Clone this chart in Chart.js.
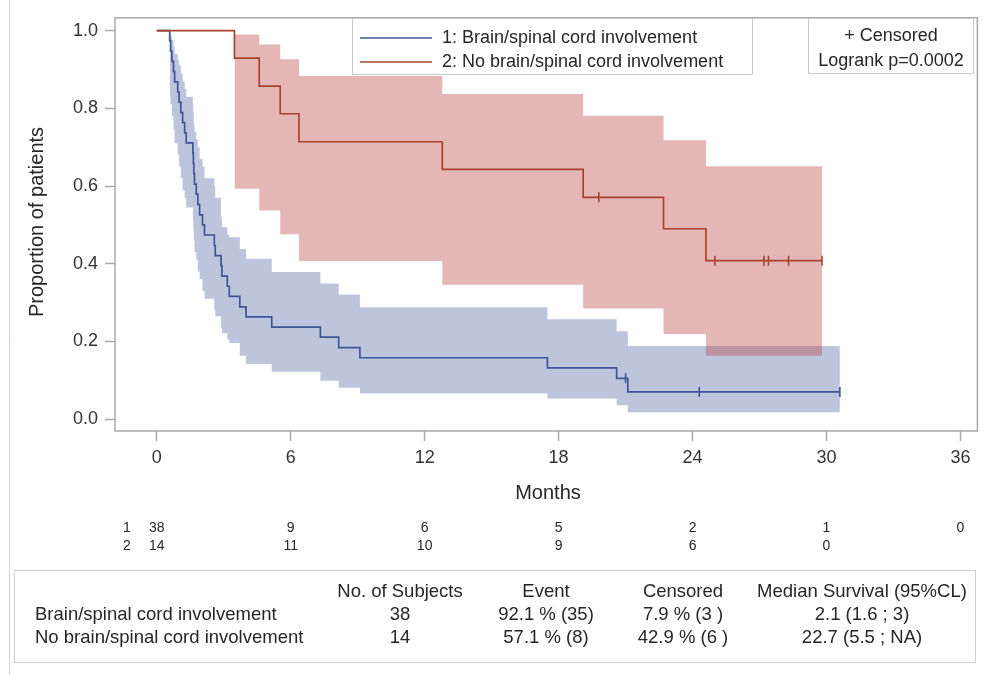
<!DOCTYPE html>
<html>
<head>
<meta charset="utf-8">
<script src="https://cdn.jsdelivr.net/npm/chart.js@4/dist/chart.umd.min.js"></script>
<style>
  html, body { margin: 0; padding: 0; background: #ffffff; }
  #wrap { position: relative; width: 984px; height: 675px; }
  canvas { display: block; }
</style>
</head>
<body>
<div id="wrap"><canvas id="km" width="984" height="675"></canvas></div>
<script>
// Axis ticks
const monthTicks = [0, 6, 12, 18, 24, 30, 36];
const yTicks = [0, 0.2, 0.4, 0.6, 0.8, 1.0];

// Group 1: brain/spinal cord involvement (n = 38) — event times (months) and KM estimate after each
const g1Times = [0.58, 0.62, 0.68, 0.75, 0.80, 0.94, 1.00, 1.08, 1.16, 1.25, 1.32,
                 1.62, 1.64, 1.66, 1.69, 1.77, 1.84, 1.92, 2.05, 2.14,
                 2.58, 2.62, 2.88, 2.92, 3.16, 3.25, 3.72, 4.00, 5.15,
                 7.33, 8.15, 9.10, 17.5, 20.6, 21.1];
const g1Surv = [0.974, 0.947, 0.921, 0.895, 0.868, 0.842, 0.816, 0.789, 0.763, 0.737, 0.711,
                0.684, 0.658, 0.632, 0.605, 0.579, 0.553, 0.526, 0.500, 0.474,
                0.447, 0.421, 0.395, 0.368, 0.342, 0.316, 0.289, 0.263, 0.237,
                0.211, 0.184, 0.158, 0.132, 0.105, 0.070];
const g1Lower = [0.83, 0.81, 0.78, 0.745, 0.71, 0.68, 0.65, 0.62, 0.59, 0.57, 0.545,
                 0.51, 0.49, 0.46, 0.43, 0.41, 0.38, 0.36, 0.33, 0.31,
                 0.28, 0.265, 0.235, 0.221, 0.205, 0.196, 0.163, 0.142, 0.122,
                 0.099, 0.081, 0.066, 0.053, 0.036, 0.018];
const g1Upper = [0.996, 0.987, 0.975, 0.96, 0.94, 0.925, 0.91, 0.89, 0.87, 0.85, 0.83,
                 0.81, 0.79, 0.76, 0.74, 0.72, 0.70, 0.67, 0.65, 0.62,
                 0.60, 0.57, 0.52, 0.494, 0.475, 0.468, 0.438, 0.413, 0.379,
                 0.349, 0.321, 0.288, 0.257, 0.226, 0.188];
const g1CensorTimes = [21.0, 24.3, 30.6];
const g1End = 30.6;

// Group 2: no brain/spinal cord involvement (n = 14)
const g2Times = [3.48, 4.59, 5.53, 6.37, 12.79, 19.1, 22.7, 24.6];
const g2Surv  = [0.929, 0.857, 0.786, 0.714, 0.643, 0.571, 0.490, 0.408];
const g2Lower = [0.593, 0.537, 0.476, 0.407, 0.346, 0.285, 0.219, 0.163];
const g2Upper = [0.990, 0.964, 0.926, 0.883, 0.837, 0.781, 0.718, 0.651];
const g2CensorTimes = [19.8, 25.0, 27.2, 27.4, 28.3, 29.8];
const g2End = 29.8;

// Numbers at risk at each month tick
const riskRow1 = [38, 9, 6, 5, 2, 1, 0];
const riskRow2 = [14, 11, 10, 9, 6, 0];

const legendLabels = ['1: Brain/spinal cord involvement', '2: No brain/spinal cord involvement'];
const statLines = ['+ Censored', 'Logrank p=0.0002'];
const tableHeader = ['No. of Subjects', 'Event', 'Censored', 'Median Survival (95%CL)'];
const tableRow1 = ['Brain/spinal cord involvement', '38', '92.1 % (35)', '7.9 % (3 )', '2.1 (1.6 ; 3)'];
const tableRow2 = ['No brain/spinal cord involvement', '14', '57.1 % (8)', '42.9 % (6 )', '22.7 (5.5 ; NA)'];

const BLUE = '#3e5695';
const RED = '#a6432f';
const FONT = '"Liberation Sans", Arial, sans-serif';
const TEXT = '#262626';

function curvePoints(times, surv, end) {
  const pts = [{ x: 0, y: 1 }];
  times.forEach((t, i) => pts.push({ x: t, y: surv[i] }));
  pts.push({ x: end, y: surv[surv.length - 1] });
  return pts;
}
function bandPoints(times, vals, end) {
  const pts = times.map((t, i) => ({ x: t, y: vals[i] }));
  pts.push({ x: end, y: vals[vals.length - 1] });
  return pts;
}
function survAt(times, surv, t) {
  let s = 1;
  for (let i = 0; i < times.length; i++) if (times[i] <= t) s = surv[i];
  return s;
}
function censorPoints(ct, times, surv) {
  return ct.map(t => ({ x: t, y: survAt(times, surv, t) }));
}

const bandBase = { stepped: 'before', borderWidth: 0, pointRadius: 0, showLine: true };
const lineBase = { stepped: 'before', borderWidth: 1.7, pointRadius: 0, fill: false, showLine: true };
const censorBase = { showLine: false, pointStyle: 'line', rotation: 90, pointRadius: 5, borderWidth: 1.6 };

const datasets = [
  { ...bandBase, data: bandPoints(g1Times, g1Lower, g1End), fill: false, order: 7, borderColor: 'rgba(0,0,0,0)' },
  { ...bandBase, data: bandPoints(g1Times, g1Upper, g1End), fill: '-1', order: 6, borderColor: 'rgba(0,0,0,0)',
    backgroundColor: 'rgba(90,110,167,0.40)' },
  { ...bandBase, data: bandPoints(g2Times, g2Lower, g2End), fill: false, order: 5, borderColor: 'rgba(0,0,0,0)' },
  { ...bandBase, data: bandPoints(g2Times, g2Upper, g2End), fill: '-1', order: 4, borderColor: 'rgba(0,0,0,0)',
    backgroundColor: 'rgba(190,72,72,0.40)' },
  { ...lineBase, data: curvePoints(g1Times, g1Surv, g1End), borderColor: BLUE, order: 3 },
  { ...censorBase, data: censorPoints(g1CensorTimes, g1Times, g1Surv), borderColor: BLUE, order: 2 },
  { ...lineBase, data: curvePoints(g2Times, g2Surv, g2End), borderColor: RED, order: 1 },
  { ...censorBase, data: censorPoints(g2CensorTimes, g2Times, g2Surv), borderColor: RED, order: 0 }
];

const decorations = {
  id: 'decorations',
  afterDraw(chart) {
    const ctx = chart.ctx;
    const a = chart.chartArea;
    const xs = chart.scales.x;
    ctx.save();

    // outer left rule
    ctx.strokeStyle = '#d4d4d4';
    ctx.lineWidth = 1;
    ctx.beginPath(); ctx.moveTo(9.5, 0); ctx.lineTo(9.5, 675); ctx.stroke();

    // plot frame
    ctx.strokeStyle = '#a9a9a9';
    ctx.lineWidth = 1.5;
    ctx.strokeRect(a.left, a.top, a.right - a.left, a.bottom - a.top);

    // axis titles
    ctx.fillStyle = TEXT;
    ctx.font = '20px ' + FONT;
    ctx.textAlign = 'center';
    ctx.textBaseline = 'middle';
    ctx.fillText('Months', 548, 493);
    ctx.save();
    ctx.translate(37, 222);
    ctx.rotate(-Math.PI / 2);
    ctx.fillText('Proportion of patients', 0, 0);
    ctx.restore();

    // group legend
    ctx.strokeStyle = '#c9c9c9';
    ctx.lineWidth = 1;
    ctx.strokeRect(352.5, 18.5, 400, 56);
    ctx.lineWidth = 1.5;
    ctx.strokeStyle = BLUE;
    ctx.beginPath(); ctx.moveTo(360, 38); ctx.lineTo(432, 38); ctx.stroke();
    ctx.strokeStyle = RED;
    ctx.beginPath(); ctx.moveTo(360, 62); ctx.lineTo(432, 62); ctx.stroke();
    ctx.font = '18px ' + FONT;
    ctx.textAlign = 'left';
    ctx.fillText(legendLabels[0], 442, 38);
    ctx.fillText(legendLabels[1], 442, 62);

    // censor / test box
    ctx.strokeStyle = '#c9c9c9';
    ctx.lineWidth = 1;
    ctx.strokeRect(808.5, 18.5, 165, 55);
    ctx.textAlign = 'center';
    ctx.fillText(statLines[0], 891, 36);
    ctx.fillText(statLines[1], 891, 61);

    // numbers at risk
    ctx.font = '14px ' + FONT;
    ctx.fillText('1', 127, 528);
    ctx.fillText('2', 127, 546);
    riskRow1.forEach((v, i) => ctx.fillText(String(v), xs.getPixelForValue(monthTicks[i]), 528));
    riskRow2.forEach((v, i) => ctx.fillText(String(v), xs.getPixelForValue(monthTicks[i]), 546));

    // summary table
    ctx.strokeStyle = '#cfcfcf';
    ctx.strokeRect(14.5, 570.5, 961, 92);
    ctx.font = '18.5px ' + FONT;
    const colX = [400, 546, 683, 862];
    tableHeader.forEach((h, i) => ctx.fillText(h, colX[i], 592));
    [tableRow1, tableRow2].forEach((row, r) => {
      const y = 615 + r * 23;
      ctx.textAlign = 'left';
      ctx.fillText(row[0], 35, y);
      ctx.textAlign = 'center';
      for (let i = 1; i < row.length; i++) ctx.fillText(row[i], colX[i - 1], y);
    });

    ctx.restore();
  }
};

new Chart(document.getElementById('km'), {
  type: 'scatter',
  data: { datasets },
  options: {
    responsive: false,
    devicePixelRatio: 1,
    animation: false,
    events: [],
    layout: { padding: { left: 0, top: 13, right: 2, bottom: 0 } },
    plugins: { legend: { display: false }, tooltip: { enabled: false } },
    scales: {
      x: {
        type: 'linear',
        min: -1.87, max: 36.76,
        afterBuildTicks: s => { s.ticks = monthTicks.map(v => ({ value: v })); },
        afterFit: s => { s.height = 244; },
        grid: { drawOnChartArea: false, drawTicks: true, tickLength: 10, tickColor: '#a9a9a9', tickWidth: 1.5 },
        border: { display: false },
        ticks: { color: '#333', font: { family: FONT, size: 18 }, padding: 6, maxRotation: 0, autoSkip: false,
                 callback: v => String(v) }
      },
      y: {
        type: 'linear',
        min: -0.0305, max: 1.033,
        afterBuildTicks: s => { s.ticks = yTicks.map(v => ({ value: v })); },
        afterFit: s => { s.width = 115; },
        grid: { drawOnChartArea: false, drawTicks: true, tickLength: 10, tickColor: '#a9a9a9', tickWidth: 1.5 },
        border: { display: false },
        ticks: { color: '#333', font: { family: FONT, size: 18 }, padding: 7, autoSkip: false,
                 callback: v => v.toFixed(1) }
      }
    }
  },
  plugins: [decorations]
});
</script>
</body>
</html>
